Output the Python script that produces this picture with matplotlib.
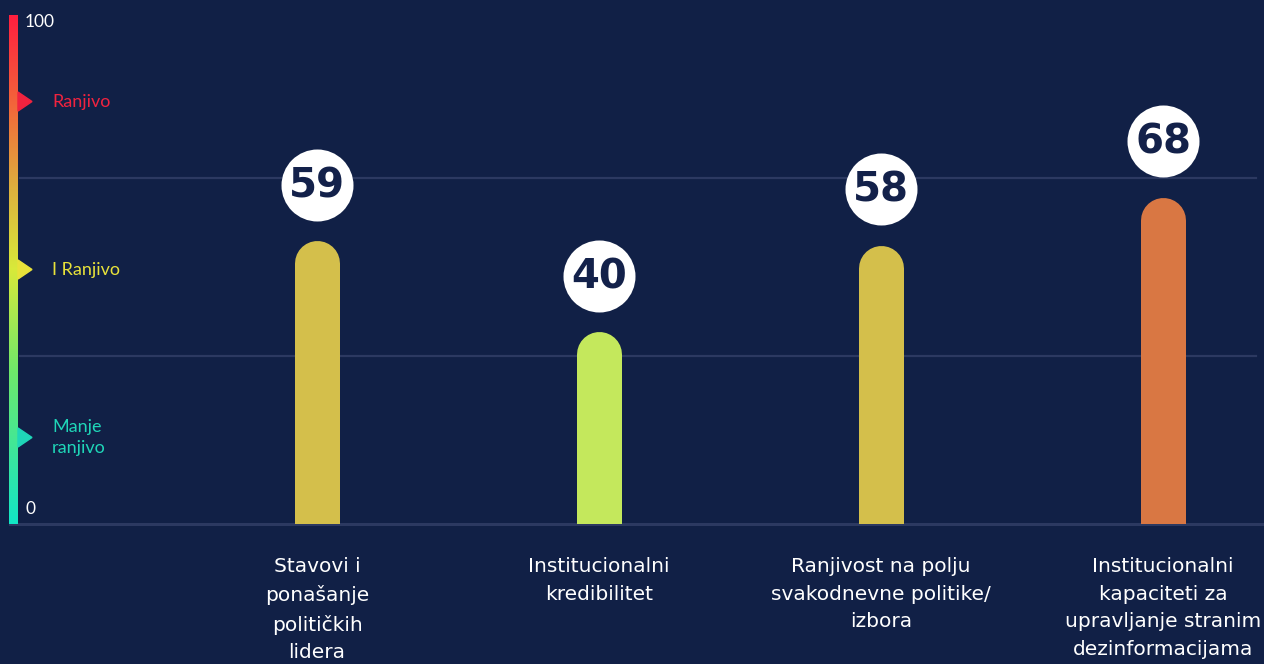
import numpy as np
import matplotlib
matplotlib.use('Agg')
import matplotlib.pyplot as plt
from matplotlib.colors import LinearSegmentedColormap
from matplotlib.transforms import offset_copy

# Data
categories = ['Stavovi i\nponašanje\npolitičkih\nlidera',
              'Institucionalni\nkredibilitet',
              'Ranjivost na polju\nsvakodnevne politike/\nizbora',
              'Institucionalni\nkapaciteti za\nupravljanje stranim\ndezinformacijama']
values = [59, 40, 58, 68]
bar_colors = ['#d4bf4b', '#c4e85c', '#d4bf4b', '#d97743']

levels = [83, 50, 17]
level_labels = ['Ranjivo', 'I Ranjivo', 'Manje\nranjivo']
level_colors = ['#f0233f', '#e8e23a', '#1fd6b8']
grid_values = [33, 68]

BG = '#112046'
W, H = 1264, 664
plt.rcParams['font.family'] = ['Lato', 'DejaVu Sans']

fig = plt.figure(figsize=(W / 100, H / 100), dpi=100, facecolor=BG)

# axes from y=524px (bottom) to y=15px (top)
pos = [0, (H - 524) / H, 1, (524 - 15) / H]
ax_s = fig.add_axes(pos)   # scale axis 0-100 (gradient legend)
ax = fig.add_axes(pos)     # bars
for a in (ax_s, ax):
    a.set_facecolor('none')
    a.axis('off')

ax_s.set_xlim(0, W)
ax_s.set_ylim(0, 100)
px_per_unit_s = 509 / 100

# gradient bar
cmap = LinearSegmentedColormap.from_list('vuln', [
    (0.0, '#12e6c6'), (0.3, '#6fe86a'), (0.5, '#d8ea3a'),
    (0.66, '#ddb03e'), (0.82, '#f2683a'), (1.0, '#ff1f3f')])
grad = np.linspace(0, 1, 256).reshape(-1, 1)
ax_s.imshow(grad, cmap=cmap, origin='lower', aspect='auto',
            extent=(9, 18, 0, 100), zorder=3)

# gridlines and baseline
for g in grid_values:
    ax_s.plot([20, 1256], [g, g], color='#2c3961', lw=1.6, zorder=1)
ax_s.plot([10, W], [0, 0], color='#2c3961', lw=2.2, zorder=1, clip_on=False)

# level markers
half = 9.5 / px_per_unit_s
for lv, lab, col in zip(levels, level_labels, level_colors):
    ax_s.fill([18, 32, 18], [lv - half, lv, lv + half], color=col, zorder=4,
              clip_on=False)
    ax_s.text(52, lv, lab, color=col, fontsize=13, va='center', ha='left',
              linespacing=1.45)

ax_s.text(25, 100 - 7 / px_per_unit_s, '100', color='white', fontsize=12.5,
          va='center', ha='left')
ax_s.text(26, 15 / px_per_unit_s, '0', color='white', fontsize=12.5,
          va='center', ha='left')

# bars
x = np.arange(len(values))
ax.set_xlim(-317 / 282, (W - 317) / 282)
ax.set_ylim(0, 106)
px_per_unit = 509 / 106
bar_w_px = 45
r_data = bar_w_px / 2 / px_per_unit
lw_pt = bar_w_px * 72 / 100
for xi, v, c in zip(x, values, bar_colors):
    ax.plot([xi, xi], [-10, v - r_data], color=c, lw=lw_pt,
            solid_capstyle='round', zorder=3)

# value circles
circ_tr = offset_copy(ax.transData, fig=fig, x=0, y=56, units='dots')
ax.plot(x, values, 'o', ms=72 * 72 / 100, color='white', mec='none',
        transform=circ_tr, clip_on=False, zorder=5)
for xi, v in zip(x, values):
    ax.text(xi, v - 0.3, str(v), transform=circ_tr, ha='center', va='center',
            fontsize=29, fontweight='bold', family='DejaVu Sans',
            color='#13214a', zorder=6)

# category labels
for xi, lab in zip(x, categories):
    ax.annotate(lab, xy=(xi, 0), xytext=(0, -33 * 72 / 100),
                textcoords='offset points', ha='center', va='top',
                color='white', fontsize=14.5, linespacing=1.58,
                family='DejaVu Sans', annotation_clip=False)

fig.savefig('out.png', dpi=100, facecolor=BG)
